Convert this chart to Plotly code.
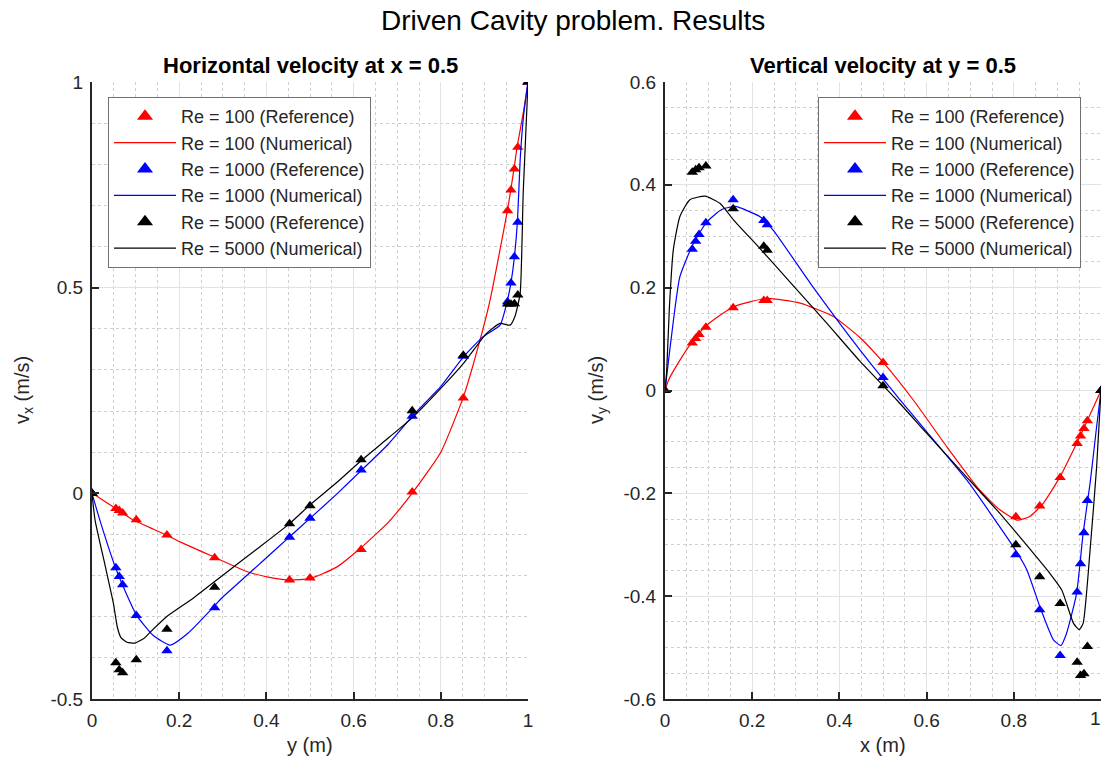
import plotly.graph_objects as go

# ---------------- Left: horizontal velocity at x = 0.5 ----------------
y_ref = [1.0000, 0.9766, 0.9688, 0.9609, 0.9531, 0.8516, 0.7344, 0.6172, 0.5000,
         0.4531, 0.2813, 0.1719, 0.1016, 0.0703, 0.0625, 0.0547, 0.0000]
u_ref_100 = [1.0, 0.84123, 0.78871, 0.73722, 0.68717, 0.23151, 0.00332, -0.13641, -0.20581,
             -0.21090, -0.15662, -0.10150, -0.06434, -0.04775, -0.04192, -0.03717, 0.0]
u_ref_1000 = [1.0, 0.65928, 0.57492, 0.51117, 0.46604, 0.33304, 0.18719, 0.05702, -0.06080,
              -0.10648, -0.27805, -0.38289, -0.29730, -0.22220, -0.20196, -0.18109, 0.0]
u_ref_5000 = [1.0, 0.48223, 0.46120, 0.45992, 0.46036, 0.33556, 0.20087, 0.08183, -0.03039,
              -0.07404, -0.22855, -0.33050, -0.40435, -0.43643, -0.42901, -0.41165, 0.0]

y_num_100 = [0, 0.02, 0.0547, 0.095, 0.17, 0.202, 0.278, 0.355, 0.41, 0.454, 0.5, 0.56, 0.615,
             0.68, 0.737, 0.80, 0.852, 0.89, 0.913, 0.953, 0.968, 0.975, 0.99, 1.0]
u_num_100 = [0, -0.013, -0.037, -0.065, -0.101, -0.118, -0.154, -0.19, -0.205, -0.211, -0.207,
             -0.18, -0.134, -0.07, 0.004, 0.10, 0.235, 0.373, 0.47, 0.689, 0.79, 0.842, 0.93, 1.0]

y_num_1000 = [0, 0.018, 0.053, 0.075, 0.102, 0.14, 0.179, 0.22, 0.278, 0.297, 0.36, 0.431, 0.454,
              0.5, 0.56, 0.619, 0.68, 0.737, 0.80, 0.852, 0.897, 0.936, 0.953, 0.962, 0.969,
              0.976, 0.982, 0.99, 1.0]
u_num_1000 = [0, -0.065, -0.178, -0.235, -0.296, -0.345, -0.369, -0.34, -0.277, -0.255, -0.195,
              -0.127, -0.105, -0.061, -0.003, 0.057, 0.12, 0.19, 0.26, 0.332, 0.381, 0.409, 0.47,
              0.519, 0.576, 0.665, 0.81, 0.92, 1.0]

y_num_5000 = [0, 0.007, 0.03, 0.049, 0.058, 0.066, 0.08, 0.099, 0.12, 0.133, 0.171, 0.232, 0.30,
              0.38, 0.454, 0.5, 0.56, 0.619, 0.68, 0.737, 0.80, 0.852, 0.905, 0.936, 0.959,
              0.970, 0.982, 0.989, 1.0]
u_num_5000 = [0, -0.065, -0.175, -0.267, -0.325, -0.350, -0.362, -0.364, -0.352, -0.338, -0.30,
              -0.255, -0.199, -0.134, -0.073, -0.028, 0.025, 0.081, 0.135, 0.186, 0.255, 0.316,
              0.389, 0.413, 0.409, 0.43, 0.486, 0.73, 1.0]

# ---------------- Right: vertical velocity at y = 0.5 ----------------
x_ref = [1.0000, 0.9688, 0.9609, 0.9531, 0.9453, 0.9063, 0.8594, 0.8047, 0.5000,
         0.2344, 0.2266, 0.1563, 0.0938, 0.0781, 0.0703, 0.0625, 0.0000]
v_ref_100 = [0.0, -0.05906, -0.07391, -0.08864, -0.10313, -0.16914, -0.22445, -0.24533, 0.05454,
             0.17527, 0.17507, 0.16077, 0.12317, 0.10890, 0.10091, 0.09233, 0.0]
v_ref_1000 = [0.0, -0.21388, -0.27669, -0.33714, -0.39188, -0.51550, -0.42665, -0.31966, 0.02526,
              0.32235, 0.33075, 0.37095, 0.32627, 0.30353, 0.29012, 0.27485, 0.0]
v_ref_5000 = [0.0, -0.49774, -0.55069, -0.55408, -0.52876, -0.41442, -0.36214, -0.30018, 0.00945,
              0.27280, 0.28066, 0.35368, 0.43648, 0.43329, 0.42951, 0.42447, 0.0]

x_num_100 = [0, 0.008, 0.035, 0.065, 0.096, 0.157, 0.233, 0.31, 0.386, 0.447, 0.5, 0.569, 0.646,
             0.722, 0.768, 0.807, 0.837, 0.868, 0.906, 0.944, 0.971, 1.0]
v_num_100 = [0, 0.02, 0.06, 0.098, 0.127, 0.163, 0.179, 0.17, 0.144, 0.103, 0.055, -0.018, -0.109,
             -0.194, -0.232, -0.252, -0.245, -0.219, -0.168, -0.103, -0.054, 0]

x_num_1000 = [0, 0.011, 0.034, 0.065, 0.096, 0.13, 0.161, 0.218, 0.248, 0.333, 0.447, 0.539, 0.6,
              0.692, 0.799, 0.83, 0.86, 0.891, 0.908, 0.921, 0.944, 0.959, 0.975, 0.990, 1.0]
v_num_1000 = [0, 0.079, 0.221, 0.286, 0.328, 0.352, 0.358, 0.338, 0.312, 0.209, 0.079, -0.018,
              -0.08, -0.174, -0.304, -0.349, -0.421, -0.485, -0.496, -0.472, -0.395, -0.278,
              -0.18, -0.07, 0]

x_num_5000 = [0, 0.004, 0.01, 0.019, 0.034, 0.057, 0.092, 0.126, 0.157, 0.218, 0.294, 0.371,
              0.447, 0.531, 0.6, 0.684, 0.768, 0.807, 0.883, 0.91, 0.937, 0.95, 0.959, 0.975,
              0.99, 1.0]
v_num_5000 = [0, 0.04, 0.16, 0.273, 0.338, 0.371, 0.378, 0.364, 0.332, 0.276, 0.204, 0.131,
              0.057, -0.018, -0.083, -0.161, -0.239, -0.278, -0.356, -0.388, -0.453, -0.465,
              -0.453, -0.31, -0.148, 0]

# tick labels
x_ticks = [0, 0.2, 0.4, 0.6, 0.8, 1]
x_ticktext = ["0", "0.2", "0.4", "0.6", "0.8", "1"]
yl_ticks = [-0.5, 0, 0.5, 1]
yl_ticktext = ["-0.5", "0", "0.5", "1"]
yr_ticks = [-0.6, -0.4, -0.2, 0, 0.2, 0.4, 0.6]
yr_ticktext = ["-0.6", "-0.4", "-0.2", "0", "0.2", "0.4", "0.6"]

colors = {"100": "#ff0000", "1000": "#0000ff", "5000": "#000000"}
left_sets = [("100", u_ref_100, y_num_100, u_num_100),
             ("1000", u_ref_1000, y_num_1000, u_num_1000),
             ("5000", u_ref_5000, y_num_5000, u_num_5000)]
right_sets = [("100", v_ref_100, x_num_100, v_num_100),
              ("1000", v_ref_1000, x_num_1000, v_num_1000),
              ("5000", v_ref_5000, x_num_5000, v_num_5000)]

LINE = dict(width=1.2, shape="spline", smoothing=0.5)

fig = go.Figure()


def add_panel(sets, xref_vals, xa, ya, leg):
    for re, vref, xn, vn in sets:
        c = colors[re]
        # reference markers (plotted), with a larger legend-only symbol
        fig.add_trace(go.Scatter(x=xref_vals, y=vref, mode="markers",
                                 name=f"Re = {re} (Reference)", showlegend=False,
                                 marker=dict(symbol="triangle-up", size=10, color=c),
                                 xaxis=xa, yaxis=ya, legend=leg))
        fig.add_trace(go.Scatter(x=[None], y=[None], mode="markers",
                                 name=f"Re = {re} (Reference)",
                                 marker=dict(symbol="triangle-up", size=14, color=c),
                                 xaxis=xa, yaxis=ya, legend=leg))
        fig.add_trace(go.Scatter(x=xn, y=vn, mode="lines", name=f"Re = {re} (Numerical)",
                                 line=dict(color=c, **LINE),
                                 xaxis=xa, yaxis=ya, legend=leg))


add_panel(left_sets, y_ref, "x", "y", "legend")
add_panel(right_sets, x_ref, "x2", "y2", "legend2")

W, H = 1102, 765
TXT = "#262626"
FONT = "Liberation Sans, Arial, sans-serif"


def ax(domain, rng, tickvals, ticktext, minor_dtick, anchor):
    return dict(domain=domain, range=rng, tickvals=tickvals, ticktext=ticktext,
                automargin=False, ticklabeloverflow="allow", ticklabelstandoff=3,
                showgrid=True, gridcolor="#e3e3e3", gridwidth=1, zeroline=False,
                showline=True, linecolor=TXT, linewidth=2, mirror=False,
                ticks="inside", ticklen=7, tickwidth=1.5, tickcolor=TXT,
                tickfont=dict(family=FONT, size=19, color=TXT),
                minor=dict(dtick=minor_dtick, tick0=0, showgrid=True, gridcolor="#cfcfcf",
                           griddash="dot", gridwidth=1, ticks=""),
                anchor=anchor, fixedrange=True)


xl_dom = [92 / W, 528 / W]
xr_dom = [665 / W, 1101 / W]
y_dom = [1 - 699 / H, 1 - 82 / H]
# the last right-panel tick label sits at the page edge: draw it right-aligned separately
xr_ticktext = x_ticktext[:-1] + [""]

fig.update_layout(
    width=W, height=H, margin=dict(l=0, r=0, t=0, b=0, autoexpand=False),
    paper_bgcolor="white", plot_bgcolor="white",
    font=dict(family=FONT, color=TXT),
    xaxis=ax(xl_dom, [0, 1], x_ticks, x_ticktext, 0.05, "y"),
    yaxis=ax(y_dom, [-0.5, 1], yl_ticks, yl_ticktext, 0.1, "x"),
    xaxis2=ax(xr_dom, [0, 1], x_ticks, xr_ticktext, 0.05, "y2"),
    yaxis2=ax(y_dom, [-0.6, 0.6], yr_ticks, yr_ticktext, 0.05, "x2"),
    legend=dict(x=108 / W, y=1 - 97 / H, xanchor="left", yanchor="top",
                bgcolor="white", bordercolor="#707070", borderwidth=1,
                font=dict(family=FONT, size=18, color=TXT), itemwidth=62,
                tracegroupgap=0),
    legend2=dict(x=818 / W, y=1 - 97 / H, xanchor="left", yanchor="top",
                 bgcolor="white", bordercolor="#707070", borderwidth=1,
                 font=dict(family=FONT, size=18, color=TXT), itemwidth=62,
                 tracegroupgap=0),
    showlegend=True,
)

ann = [
    dict(text="Driven Cavity problem. Results", x=573 / W, y=1 - 20 / H, size=28,
         color="#000000", angle=0, xa="center"),
    dict(text="<b>Horizontal velocity at x = 0.5</b>", x=310 / W, y=1 - 65 / H, size=22,
         color="#000000", angle=0, xa="center"),
    dict(text="<b>Vertical velocity at y = 0.5</b>", x=883 / W, y=1 - 65 / H, size=22,
         color="#000000", angle=0, xa="center"),
    dict(text="y (m)", x=310 / W, y=1 - 745 / H, size=20, color=TXT, angle=0, xa="center"),
    dict(text="x (m)", x=883 / W, y=1 - 745 / H, size=20, color=TXT, angle=0, xa="center"),
    dict(text="v<sub>x</sub> (m/s)", x=23 / W, y=1 - 390 / H, size=20, color=TXT, angle=-90,
         xa="center"),
    dict(text="v<sub>y</sub> (m/s)", x=597 / W, y=1 - 390 / H, size=20, color=TXT, angle=-90,
         xa="center"),
    dict(text=x_ticktext[-1], x=1.0, y=1 - 718 / H, size=19, color=TXT, angle=0, xa="right"),
]
for a in ann:
    fig.add_annotation(text=a["text"], x=a["x"], y=a["y"], xref="paper", yref="paper",
                       xanchor=a["xa"], yanchor="middle", showarrow=False,
                       textangle=a["angle"], borderpad=0,
                       font=dict(family=FONT, size=a["size"], color=a["color"]))

fig.write_html("out.html")
